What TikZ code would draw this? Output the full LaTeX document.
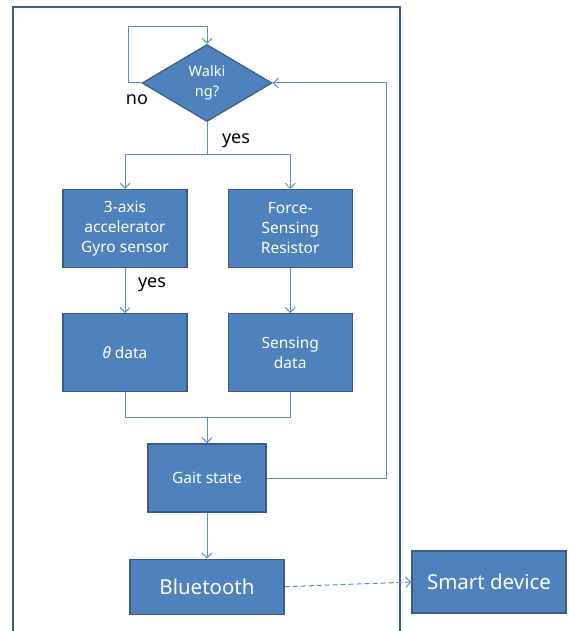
\documentclass[tikz,border=0pt]{standalone}
\usepackage{fontspec}
\setmainfont{Noto Sans}
\usetikzlibrary{arrows.meta,positioning,shapes.geometric}
\definecolor{boxblue}{HTML}{4F81BD}
\definecolor{boxedge}{HTML}{385D8A}
\definecolor{wireblue}{HTML}{5B8FCB}
\definecolor{framec}{HTML}{3A5F8B}
\tikzset{
  block/.style={draw=boxedge,line width=1.2pt,fill=boxblue,text=white,
    minimum width=124pt,minimum height=78pt,align=center,inner sep=2pt,
    font=\fontsize{15.5}{20}\selectfont},
  decision/.style={diamond,draw=boxedge,line width=1.2pt,fill=boxblue,text=white,
    minimum width=130pt,minimum height=77pt,inner sep=0pt,align=center,
    font=\fontsize{14.5}{20}\selectfont},
  flow/.style={-{Straight Barb[length=5pt,width=10pt]},line width=1pt,draw=wireblue},
  link/.style={line width=1pt,draw=wireblue},
  tag/.style={font=\fontsize{18}{20}\selectfont,text=black,inner sep=0pt}
}
\begin{document}
\begin{tikzpicture}[x=1pt,y=-1pt,node distance=45pt and 40pt]
  \useasboundingbox (0,0) rectangle (568,631);
  \draw[framec,line width=2pt] (12.5,7.5) rectangle (399.5,660);

  \node[decision] (walk) at (207,83) {Walki\\ng?};
  \node[block] (acc) at (125,228.5) {3-axis\\accelerator\\Gyro sensor};
  \node[block,right=40pt of acc] (fsr) {Force-\\Sensing\\Resistor};
  \node[block,below=45pt of acc] (theta) {{\itshape θ} data};
  \node[block,below=45pt of fsr] (sens) {Sensing\\data};
  \node[block,minimum width=118pt,minimum height=68pt] (gait) at (207,478) {Gait state};
  \node[block,below=46pt of gait,minimum width=154pt,minimum height=55pt,
    font=\fontsize{20.5}{24}\selectfont] (bt) {Bluetooth};
  \node[block,minimum width=154pt,minimum height=62pt,
    font=\fontsize{20.5}{24}\selectfont] (smart) at (489,582) {Smart device};

  \coordinate (noloop) at (128,27);
  \coordinate (split) at (207,155);
  \coordinate (merge) at (207,417);
  \coordinate (back) at (386,478);

  \draw[flow] (walk.west) -| (noloop) -| (walk.north);
  \node[tag] (no) at (137,100) {no};
  \draw[link] (walk.south) -- (split);
  \node[tag] (yes1) at (236,141) {yes};
  \draw[flow] (split) -| (acc.north);
  \draw[flow] (split) -| (fsr.north);
  \draw[flow] (acc) -- (theta);
  \node[tag] (yes2) at (152,285) {yes};
  \draw[flow] (fsr) -- (sens);
  \draw[link] (theta.south) |- (merge);
  \draw[link] (sens.south) |- (merge);
  \draw[flow] (merge) -- (gait.north);
  \draw[flow] (gait.east) -- (back) |- (walk.east);
  \draw[flow] (gait) -- (bt);
  \draw[flow,dash pattern=on 5pt off 3pt] (bt.east) -- (smart.west);
\end{tikzpicture}
\end{document}
